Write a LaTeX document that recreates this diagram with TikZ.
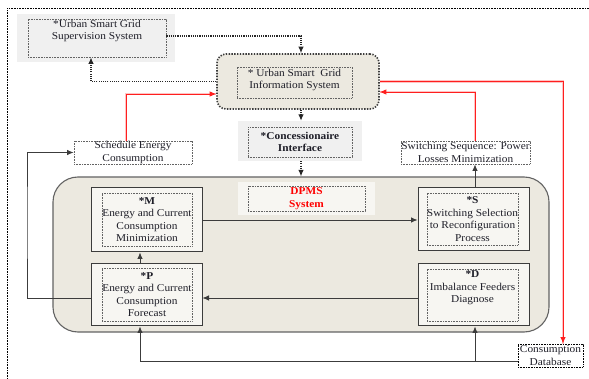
\documentclass[tikz,border=0pt]{standalone}
\usepackage{fontspec}
\setmainfont{Liberation Serif}[FakeStretch=1.08]
\usetikzlibrary{arrows.meta,calc}

\definecolor{bgpale}{HTML}{F0F0F0}
\definecolor{panel}{HTML}{ECE9E0}
\definecolor{cardfill}{HTML}{F7F6F2}
\definecolor{edge}{HTML}{3C3C3C}
\definecolor{ink}{HTML}{1E1E28}
\definecolor{linkred}{HTML}{FF1E1E}
\definecolor{halo}{HTML}{FFC4C4}

\newcommand\diagfont{\fontsize{10.5}{12.5}\selectfont}

\tikzset{
  txt/.style={font=\diagfont, align=center, inner sep=0pt, text=ink},
  bgpane/.style={fill=bgpale, draw=none, inner sep=0pt},
  dotbox/.style={draw=edge!80, line width=0.8pt, dash pattern=on 0.8pt off 0.8pt, inner sep=0pt},
  card/.style={draw=edge, line width=1pt, fill=cardfill, inner sep=0pt},
  tip/.style={-{Latex[length=6.5pt,width=5.5pt]}},
  conn/.style={draw=edge, line width=0.8pt, tip},
  dotconn/.style={draw=black!85, line width=1.1pt, dash pattern=on 1.1pt off 1.1pt, tip},
  redconn/.style={draw=linkred, line width=0.9pt, tip,
    preaction={draw=halo, line width=2.2pt, -}},
}

\begin{document}
\begin{tikzpicture}[x=1pt,y=-1pt]
\useasboundingbox (0,0) rectangle (589,379);

% page frame (top and left edges)
\draw[black, line width=0.8pt, dash pattern=on 0.8pt off 0.8pt] (589,8) -- (7,8) -- (7,379);

% supervision system
\node[bgpane, minimum width=158pt, minimum height=48pt] (supbg) at (96,38) {};
\node[dotbox, minimum width=138pt, minimum height=38pt] (sup) at (97,38) {};
\node[txt] (suptxt) at (97,31) {*Urban Smart Grid\\Supervision System};

% information system
\node[draw=edge, line width=1.6pt, dash pattern=on 1.4pt off 1.4pt, fill=panel,
      rounded corners=9pt, minimum width=162pt, minimum height=55pt, inner sep=0pt] (info) at (298,81.5) {};
\node[dotbox, minimum width=115pt, minimum height=31pt] (infoin) at (294.5,82.5) {};
\node[txt] (infotxt) at (294.5,80) {* Urban Smart~~Grid\\Information System};

% concessionaire interface
\node[bgpane, minimum width=124pt, minimum height=40pt] (concbg) at (300,141) {};
\node[dotbox, txt, font=\diagfont\bfseries, minimum width=104pt, minimum height=30pt] (conc) at (300,142) {*Concessionaire\\Interface};

% side notes
\node[dotbox, txt, minimum width=118pt, minimum height=23pt] (sched) at (133,152.5) {Schedule Energy\\Consumption};
\node[dotbox, txt, minimum width=129pt, minimum height=23pt] (swseq) at (465.5,152.5) {Switching Sequence: Power\\Losses Minimization};

% DPMS panel
\node[draw=edge!80, line width=1.1pt, fill=panel, rounded corners=25pt,
      minimum width=496pt, minimum height=155pt, inner sep=0pt] (dpms) at (301,254.5) {};
\node[fill=cardfill, minimum width=137pt, minimum height=33pt, inner sep=0pt] (dpmsbg) at (306.5,198.5) {};
\node[dotbox, txt, font=\diagfont\bfseries, text=red, minimum width=117pt, minimum height=25pt] (dpmslbl) at (306.5,198.5) {DPMS\\System};

% modules
\node[card, minimum width=111pt, minimum height=64pt] (m) at (146.5,220) {};
\node[dotbox, txt, minimum width=90pt, minimum height=53pt] (mtxt) at (147,219.5) {\textbf{*M}\\Energy and Current\\Consumption\\Minimization};

\node[card, minimum width=111pt, minimum height=62pt] (p) at (146.5,295) {};
\node[dotbox, txt, minimum width=90pt, minimum height=53pt] (ptxt) at (147,294.5) {\textbf{*P}\\Energy and Current\\Consumption\\Forecast};

\node[card, minimum width=111pt, minimum height=63pt] (s) at (473.5,219.5) {};
\node[dotbox, txt, minimum width=91pt, minimum height=52pt] (stxt) at (472.5,219) {\textbf{*S}\\Switching Selection\\to Reconfiguration\\Process};

\node[card, minimum width=111pt, minimum height=62pt] (d) at (473.5,295) {};
\node[dotbox, minimum width=91pt, minimum height=52pt] (dbox) at (472.5,295) {};
\node[txt] (dtxt) at (472.5,288) {\textbf{*D}\\Imbalance Feeders\\Diagnose};

% consumption database
\node[draw=black, line width=0.8pt, dash pattern=on 0.8pt off 0.8pt, fill=white, txt,
      minimum width=65pt, minimum height=23pt] (cdb) at (550.5,355.5) {Consumption\\Database};

% dotted links between the upper systems
\draw[dotconn] ([yshift=2pt]sup.east) -| ([xshift=3pt]info.north);
\draw[dotconn] (info.west) -| ([xshift=-6pt]sup.south);
\draw[dotconn] ([xshift=3pt]info.south) -- ([xshift=3pt]info.south |- concbg.north);
\draw[dotconn] ([xshift=1pt]concbg.south) -- ([xshift=1pt]concbg.south |- dpms.north);

% red feedback links
\draw[redconn] ([xshift=-7pt]sched.north) |- ([yshift=-12.5pt]info.west);
\draw[redconn] ([xshift=9.5pt]swseq.north) |- ([yshift=-10.5pt]info.east);
\draw[redconn] (info.east) -| ([xshift=12.5pt]cdb.north);

% module links
\draw[conn] (m.east) -- (m.east -| s.west);
\draw[conn] ([xshift=-6.5pt]p.north) -- ([xshift=-6.5pt]m.south);
\draw[conn] ([yshift=-3pt]d.west) -- ([yshift=-3pt]d.west -| p.east);
\draw[conn] ([xshift=1.5pt]s.north) -- ([xshift=1.5pt]s.north |- swseq.south);

\coordinate (fb) at (27,220);
\draw[conn] ([yshift=-3pt]p.west) -| (fb) |- (sched.west);

\draw[conn] ([yshift=-5.5pt]cdb.west) -| ([xshift=-6.5pt]p.south);
\draw[conn] ([yshift=-5.5pt,xshift=1.5pt]cdb.west -| d.south) -- ([xshift=1.5pt]d.south);
\end{tikzpicture}
\end{document}
